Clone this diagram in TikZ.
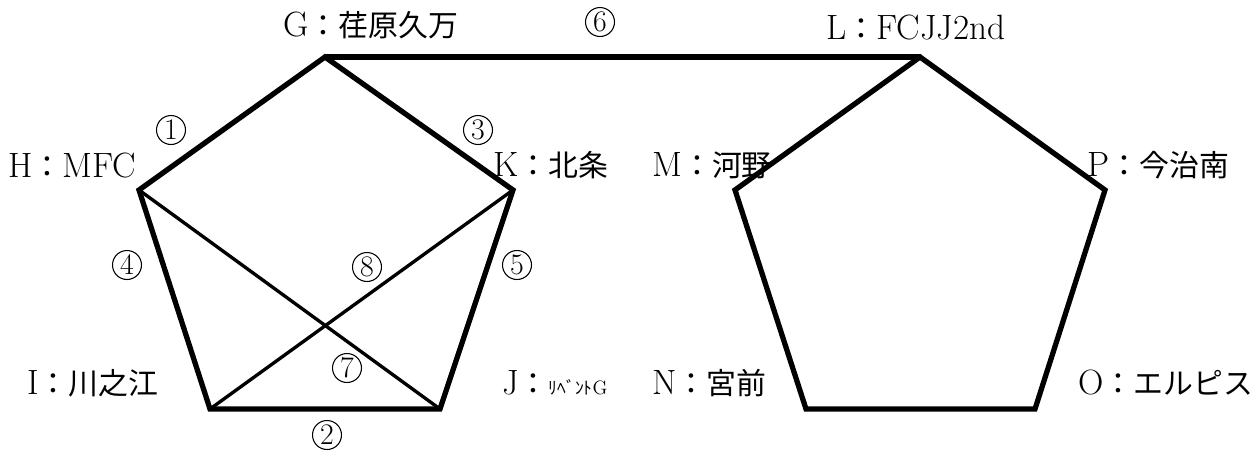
\documentclass[tikz,border=0pt]{standalone}
\usepackage{fontspec}
\newfontfamily\jafont{Noto Sans CJK JP}
\usepackage{tikz}

\tikzset{
  edge/.style={line width=3pt,line cap=round,line join=miter},
  diag/.style={line width=1.9pt,line cap=round},
  team/.style={anchor=west,inner sep=0pt,font=\fontsize{20}{22}\selectfont},
  num/.style={circle,draw,line width=0.6pt,inner sep=0pt,minimum size=0.58cm,
    font=\fontsize{17}{18}\selectfont}
}
\newcommand\ja[1]{{\jafont\fontsize{17}{20}\selectfont #1}}

\begin{document}
\begin{tikzpicture}[x=0.02cm,y=-0.02cm]
  \useasboundingbox (0,0) rectangle (1260,450);
  \coordinate (G) at (325,57);  \coordinate (H) at (139,190); \coordinate (K) at (513,190);
  \coordinate (I) at (210,409); \coordinate (J) at (440,409);
  \coordinate (L) at (920,57);  \coordinate (M) at (735,190); \coordinate (P) at (1105,190);
  \coordinate (N) at (806,409); \coordinate (O) at (1035,409);
  \draw[edge] (G) -- (L);
  \draw[edge] (L) -- (P) -- (O) -- (N) -- (M) -- cycle;
  \draw[edge] (G) -- (K) -- (J) -- (I) -- (H) -- cycle;
  \draw[diag] (H) -- (J);
  \draw[diag] (K) -- (I);
  \node[team] (gname) at (283,25)  {G\ja{：荏原久万}};
  \node[team] (lname) at (826,27)  {L\ja{：}FCJJ2nd};
  \node[team] (hname) at (8,165)   {H\ja{：}MFC};
  \node[team] (kname) at (493,165) {K\ja{：北条}};
  \node[team] (mname) at (652,165) {M\ja{：河野}};
  \node[team] (pname) at (1087,165) {P\ja{：今治南}};
  \node[team] (iname) at (27,383)  {I\ja{：川之江}};
  \node[team] (jname) at (502,383) {J\ja{：}{\jafont\fontsize{10}{12}\selectfont ﾘﾍﾞﾝﾄ}{\fontsize{11}{12}\selectfont G}};
  \node[team] (nname) at (652,383) {N\ja{：宮前}};
  \node[team] (oname) at (1078,383) {O\ja{：エルピス}};
  \node[num] (m1) at (171,130) {1};
  \node[num] (m2) at (327,435) {2};
  \node[num] (m3) at (478,130) {3};
  \node[num] (m4) at (127,265) {4};
  \node[num] (m5) at (517,265) {5};
  \node[num] (m6) at (600,22)  {6};
  \node[num] (m7) at (347,368) {7};
  \node[num] (m8) at (367,267) {8};
\end{tikzpicture}
\end{document}
